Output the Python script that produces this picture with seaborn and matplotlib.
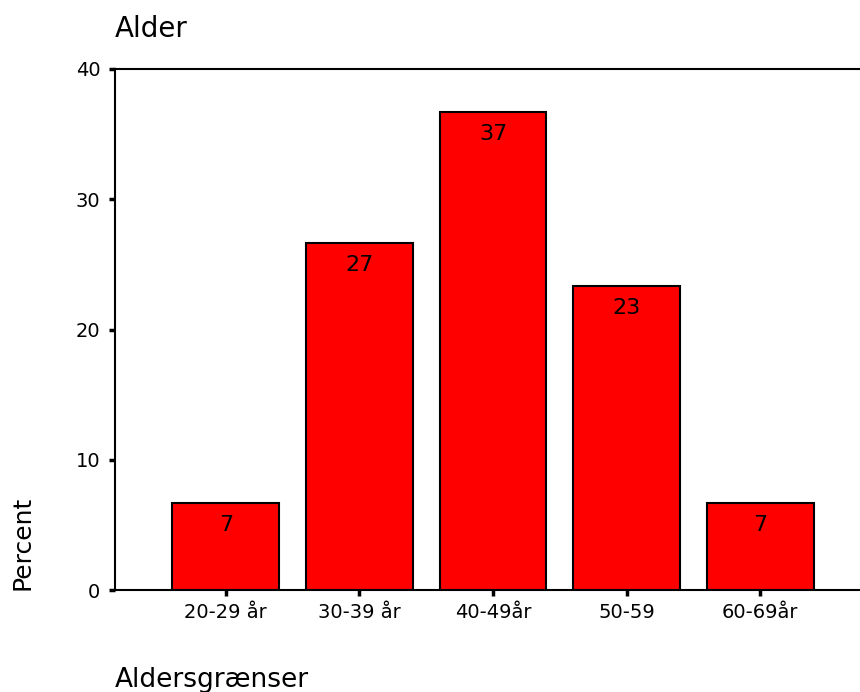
import matplotlib
matplotlib.use('Agg')
import matplotlib.pyplot as plt
import seaborn as sns
import pandas as pd

# Data (percent of respondents per age group)
categories = ['20-29 år', '30-39 år', '40-49år', '50-59', '60-69år']
percent = [6.67, 26.67, 36.67, 23.33, 6.67]
bar_labels = [f"{v:.0f}" for v in percent]
y_ticks = [0, 10, 20, 30, 40]

df = pd.DataFrame({'Aldersgrænser': categories, 'Percent': percent})

sns.set_style('ticks')
plt.rcParams['font.family'] = ['DejaVu Sans']
plt.rcParams['text.color'] = 'black'
plt.rcParams['axes.labelcolor'] = 'black'

W, H = 860, 692
fig = plt.figure(figsize=(W / 100, H / 100), dpi=100)
# axes runs a bit past the right edge, like the cropped original
ax = fig.add_axes([115 / W, 102 / H, 756 / W, 521 / H])

sns.barplot(data=df, x='Aldersgrænser', y='Percent', color='#ff0000',
            saturation=1, edgecolor='black', linewidth=1.5, width=0.8, ax=ax)

ax.bar_label(ax.containers[0], labels=bar_labels, padding=-23,
             fontsize=16, color='black')

ax.set_xlim(-0.83, 4.83)
ax.set_ylim(0, 40)
ax.set_yticks(y_ticks)

for side in ['left', 'top', 'bottom', 'right']:
    ax.spines[side].set_visible(True)
    ax.spines[side].set_linewidth(1.5)
    ax.spines[side].set_color('black')

ax.tick_params(axis='both', direction='out', length=4.5, width=2.5,
               color='black', labelsize=14, labelcolor='black',
               bottom=True, left=True)
ax.tick_params(axis='y', pad=6)
ax.tick_params(axis='x', pad=5)

ax.set_title('Alder', loc='left', fontsize=20, pad=23, color='black')

ax.set_ylabel('Percent', fontsize=18, ha='left', va='bottom')
ax.yaxis.set_label_coords(35 / W, 102 / H, transform=fig.transFigure)

ax.set_xlabel('Aldersgrænser', fontsize=19, ha='left', va='baseline')
ax.xaxis.set_label_coords(115 / W, 5 / H, transform=fig.transFigure)

fig.savefig('out.png', dpi=100)
